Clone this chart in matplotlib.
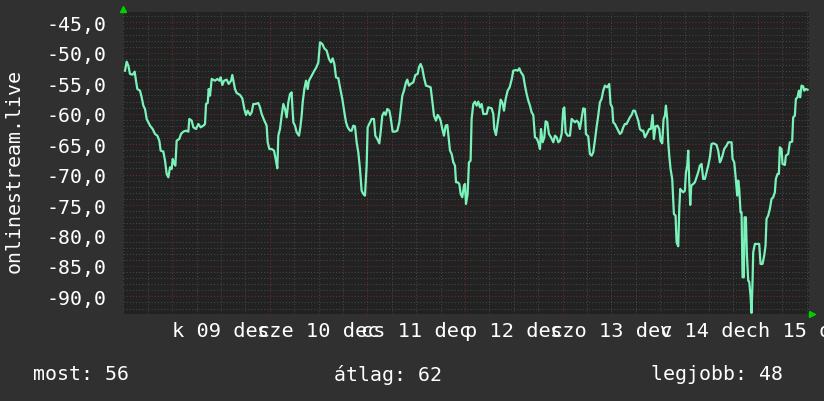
#!/usr/bin/env python3
"""
onlinestream.live jelszint - heti grafikon (rrd stilus)
"""

import matplotlib
matplotlib.use("Agg")
import matplotlib.pyplot as plt

# ora 0 = dec 09 00:00
hours = [
    -11.63, -11.22, -10.81, -10.40, -9.75, -9.25, -8.93, -8.60, -7.94, -7.53,
    -7.12, -6.71, -6.30, -5.89, -5.48, -4.83, -4.25, -3.68, -3.19, -2.86,
    -2.20, -1.79, -1.38, -0.97, -0.56, -0.15, 0.10, 0.42, 0.75, 1.08,
    1.73, 2.14, 2.72, 3.37, 3.95, 4.19, 4.77, 5.18, 5.84, 6.41,
    6.98, 7.64, 8.05, 8.30, 8.71, 8.95, 9.28, 9.69, 10.51, 11.08,
    11.58, 11.90, 12.31, 12.72, 13.38, 13.87, 14.45, 14.77, 15.18,
    # dec 10
    15.42, 15.83, 16.65, 17.22, 17.72, 18.13, 18.54, 19.11, 19.52, 19.93,
    20.50, 21.16, 21.57, 21.98, 22.64, 23.21, 23.46, 23.87, 24.44, 25.01,
    25.42, 25.83, 26.08, 26.49, 26.90, 27.31, 27.72, 28.13, 28.54, 28.95,
    29.36, 29.52, 29.77, 30.18, 30.59, 31.16, 31.49, 31.82, 32.07, 32.48,
    32.89, 33.30, 33.62, 34.28, 34.94, 35.43, 35.92, 36.33, 36.90, 37.40,
    37.97, 38.54, 39.04, 39.45, 39.86, 40.27, 40.84, 41.33, 41.82, 42.32,
    42.73, 43.14, 43.71,
    # dec 11
    44.11, 44.52, 44.93, 45.34, 45.75, 46.16, 46.57, 46.98, 47.39, 47.80,
    48.05, 48.62, 49.03, 49.60, 49.93, 50.42, 50.92, 51.24, 51.65, 52.06,
    52.47, 52.88, 53.38, 53.70, 54.20, 54.77, 55.34, 55.84, 56.16, 56.57,
    56.98, 57.48, 57.80, 58.21, 58.62, 59.28, 59.77, 60.35, 60.67, 61.08,
    61.49, 61.90, 62.40, 62.97, 63.54, 64.04, 64.36, 64.86, 65.27, 65.68,
    66.00, 66.41, 66.82, 67.23, 67.64, 68.05, 68.30, 68.71, 69.12, 69.53,
    69.78, 70.19, 70.60, 70.92, 71.33, 71.74,
    # dec 12
    71.98, 72.23, 72.64, 72.96, 73.37, 73.62, 74.03, 74.44, 74.85, 75.26,
    75.67, 76.08, 76.49, 77.31, 77.72, 78.54, 78.95, 79.20, 79.61, 79.94,
    80.35, 80.76, 81.17, 81.58, 81.99, 82.48, 82.97, 83.46, 83.87, 84.44,
    84.94, 85.35, 85.76, 86.33, 86.74, 87.15, 87.56, 87.97, 88.38, 88.79,
    89.20, 89.61, 90.02, 90.43, 90.68, 91.09, 91.50, 91.82, 92.23, 92.64,
    93.14, 93.71, 94.12, 94.53, 94.94, 95.35, 95.76, 96.17, 96.42, 96.74,
    97.24, 97.81, 98.22, 98.63, 99.04, 99.45, 99.86,
    # dec 13
    100.25, 100.66, 101.07, 101.48, 101.73, 102.30, 102.71, 103.12, 103.53, 103.94,
    104.35, 104.76, 105.17, 105.58, 105.99, 106.40, 106.97, 107.47, 107.79, 108.20,
    108.45, 108.86, 109.27, 109.68, 110.09, 110.50, 110.91, 111.32, 111.73, 112.14,
    112.55, 112.96, 113.37, 113.78, 114.19, 114.60, 115.01, 115.42, 115.83, 116.24,
    116.49, 116.90, 117.31, 117.72, 118.13, 118.45, 118.86, 119.36, 119.77, 120.09,
    120.50, 120.83, 121.16, 121.41, 121.73, 121.98, 122.23, 122.55, 122.96, 123.37,
    123.78, 124.03, 124.44, 124.69, 124.93, 125.26, 125.67, 126.08, 126.33, 126.65,
    126.90, 127.15, 127.39, 127.64, 128.13,
    # dec 14-15
    128.53, 128.94, 129.35, 129.76, 130.17, 130.58, 130.99, 131.40, 131.81, 132.22,
    132.63, 133.04, 133.45, 133.86, 134.27, 134.68, 134.92, 135.33, 135.74, 136.32,
    136.73, 137.14, 137.55, 137.80, 138.21, 138.53, 138.94, 139.19, 139.44, 139.76,
    140.01, 140.26, 140.58, 140.75, 141.08, 141.32, 141.65, 141.90, 142.22, 142.47,
    142.71, 142.88, 143.29, 143.94, 144.35, 144.68, 145.17, 145.58, 145.91, 146.15,
    146.56, 146.97, 147.38, 147.79, 148.20, 148.45, 148.86, 149.19, 149.43, 149.84,
    150.09, 150.66, 150.91, 151.48, 151.89, 152.46, 152.71, 153.12, 153.37, 153.78,
    154.11, 154.43, 154.76, 155.17, 155.42, 155.83, 156.24,
]

signal = [
    -52.94, -51.46, -52.11, -53.48, -53.59, -53.10, -54.58, -55.95, -56.22, -57.31,
    -58.68, -59.23, -60.87, -61.42, -61.97, -62.51, -63.33, -63.61, -64.43, -66.07,
    -66.23, -67.71, -69.90, -70.45, -68.81, -69.08, -67.44, -68.10, -68.53, -64.43,
    -64.15, -63.33, -62.95, -62.79, -62.95, -60.87, -61.14, -62.24, -62.51, -61.69,
    -62.24, -61.97, -61.69, -58.41, -58.24, -55.95, -57.04, -54.30, -54.58, -54.30,
    -54.58, -54.03, -55.29, -54.58, -54.41, -55.12, -54.58, -53.65, -55.12,
    # dec 10
    -55.95, -56.60, -56.93, -57.48, -59.23, -60.21, -59.50, -60.21, -59.78, -58.41,
    -58.41, -58.24, -58.96, -60.05, -61.14, -61.97, -64.70, -65.80, -65.80, -66.07,
    -67.44, -68.97, -63.61, -62.51, -60.32, -58.41, -59.23, -60.60, -58.13, -56.77,
    -56.49, -58.68, -61.42, -61.97, -63.06, -63.61, -62.24, -60.32, -58.13, -55.95,
    -54.58, -55.95, -54.58, -53.76, -52.94, -52.39, -51.57, -48.28, -48.56, -49.27,
    -49.65, -51.02, -51.57, -50.91, -51.84, -54.03, -54.19, -55.95, -57.59, -59.78,
    -61.42, -62.24, -62.79,
    # dec 11
    -62.79, -61.97, -62.07, -64.70, -66.34, -69.08, -72.64, -73.18, -73.46, -68.53,
    -62.24, -61.42, -60.87, -60.87, -63.61, -64.15, -64.87, -63.06, -60.32, -59.78,
    -60.21, -59.23, -59.50, -60.60, -62.95, -62.95, -62.79, -61.42, -59.50, -57.04,
    -56.22, -54.85, -54.41, -55.40, -55.12, -54.85, -53.65, -53.48, -52.39, -51.84,
    -52.55, -54.03, -55.40, -55.51, -55.67, -58.41, -60.32, -61.14, -60.21, -60.60,
    -61.14, -62.51, -63.61, -61.97, -61.86, -64.43, -66.07, -66.62, -67.99, -68.53,
    -71.27, -71.27, -71.54, -73.18, -73.73, -71.81,
    # dec 12
    -71.54, -74.83, -73.18, -67.99, -67.71, -60.87, -58.41, -58.02, -58.68, -58.02,
    -58.96, -58.41, -60.05, -60.05, -58.96, -59.12, -60.05, -62.51, -63.50, -61.97,
    -60.05, -57.70, -58.13, -59.50, -57.59, -56.22, -55.67, -54.41, -52.94, -52.83,
    -52.94, -52.55, -53.21, -53.76, -55.40, -56.77, -57.86, -58.68, -59.78, -60.21,
    -63.88, -64.05, -64.70, -65.80, -62.51, -64.70, -63.88, -61.25, -61.42, -63.33,
    -63.88, -64.70, -63.61, -63.88, -64.70, -64.43, -63.33, -59.23, -58.96, -63.06,
    -63.61, -63.61, -60.87, -61.14, -61.42, -61.14, -61.42,
    # dec 13
    -62.51, -60.87, -59.12, -59.23, -63.33, -63.72, -66.62, -66.89, -66.34, -64.43,
    -62.24, -60.32, -58.13, -57.59, -56.22, -55.40, -55.67, -55.12, -58.41, -58.96,
    -61.42, -61.69, -62.24, -62.79, -63.33, -63.06, -62.24, -61.69, -61.69, -61.14,
    -60.60, -60.21, -59.50, -59.50, -60.32, -61.14, -62.51, -62.79, -62.79, -63.88,
    -63.61, -63.06, -62.51, -62.51, -60.21, -64.15, -62.07, -61.97, -62.51, -64.43,
    -64.87, -60.87, -60.32, -58.68, -60.87, -64.70, -66.89, -69.08, -70.72, -76.47,
    -76.74, -81.12, -81.78, -75.65, -72.36, -72.64, -72.91, -72.64, -69.63, -68.53,
    -66.07, -71.27, -74.99, -71.81, -71.54,
    # dec 14-15
    -71.27, -70.45, -69.63, -68.53, -68.26, -70.72, -70.72, -69.63, -68.53, -67.16,
    -64.97, -64.87, -64.97, -65.14, -66.07, -67.99, -67.71, -66.89, -65.80, -65.25,
    -64.70, -64.70, -64.70, -67.44, -67.99, -70.18, -73.46, -70.99, -72.36, -76.20,
    -76.20, -86.87, -86.87, -77.02, -77.02, -83.04, -87.42, -87.58, -89.88, -92.72,
    -87.69, -82.76, -81.39, -81.39, -81.39, -84.68, -84.68, -83.31, -81.67, -77.29,
    -76.74, -75.65, -74.01, -73.73, -72.91, -70.72, -69.90, -69.90, -65.52, -65.80,
    -68.26, -68.42, -66.89, -66.62, -64.70, -64.59, -60.60, -60.32, -57.59, -57.31,
    -56.22, -57.31, -55.40, -55.51, -56.22, -55.95, -56.06,
]

day_labels = ["k 09 dec", "sze 10 dec", "cs 11 dec", "p 12 dec",
              "szo 13 dec", "v 14 dec", "h 15 dec"]
y_ticks = [-45, -50, -55, -60, -65, -70, -75, -80, -85, -90]
stats = [("most", 56), ("átlag", 62), ("legjobb", 48)]
ylabel = "onlinestream.live"

BG = '#303030'
CANVAS = '#222222'
MINOR = '#474747'
MAJOR = '#6e2b2b'
LINE = '#7af2ba'
ARROW = '#00d000'
FONT = 'DejaVu Sans Mono'
FS = 14.3

fig = plt.figure(figsize=(8.24, 4.02), dpi=100, facecolor=BG)
ax = fig.add_axes([123.5 / 824, 1 - 315 / 402, 685.5 / 824, (315 - 13.3) / 402])
ax.set_facecolor(CANVAS)
ax.set_xlim(-12.0, 156.6)
ax.set_ylim(-92.9, -43.35)

dots = (0, (1, 2))
# apro racs: 6 orankent, dB-enkent
for h in range(-12, 157, 6):
    if h % 24:
        ax.axvline(h, color=MINOR, lw=0.75, ls=dots, zorder=1)
for v in range(-92, -43):
    if v % 5:
        ax.axhline(v, color=MINOR, lw=0.75, ls=dots, zorder=1)
# fo racs: ejfel, 5 dB
for h in range(0, 157, 24):
    ax.axvline(h, color=MAJOR, lw=0.75, ls=dots, zorder=2)
for v in y_ticks:
    ax.axhline(v, color=MAJOR, lw=0.75, ls=dots, zorder=2)

ax.plot(hours, signal, color=LINE, lw=1.6, zorder=3)

ax.set_yticks(y_ticks)
ax.set_yticklabels([f"{v:.1f}".replace('.', ',') for v in y_ticks])
ax.set_xticks([12 + 24 * i for i in range(len(day_labels))])
ax.set_xticklabels(day_labels)
ax.tick_params(axis='both', length=0, colors='white', labelsize=FS)
ax.tick_params(axis='y', pad=12)
ax.tick_params(axis='x', pad=5, labelsize=14.6)
for lab in ax.get_xticklabels() + ax.get_yticklabels():
    lab.set_family(FONT)
for s in ax.spines.values():
    s.set_visible(False)

# nyilak a tengelyek vegen
ax.plot([0], [1.01], marker='^', ms=4, color=ARROW, transform=ax.transAxes, clip_on=False)
ax.plot([1.005], [0], marker='>', ms=4, color=ARROW, transform=ax.transAxes, clip_on=False)

fig.text(14 / 824, 1 - 171 / 402, ylabel, rotation=90, ha='center', va='center',
         color='white', family=FONT, fontsize=FS)

stat_x = [33, 334, 651]
for (name, val), x in zip(stats, stat_x):
    fig.text(x / 824, 1 - 375 / 402, f"{name}: {val}", ha='left', va='center',
             color='white', family=FONT, fontsize=FS)

fig.savefig('out.png', dpi=100, facecolor=BG)
